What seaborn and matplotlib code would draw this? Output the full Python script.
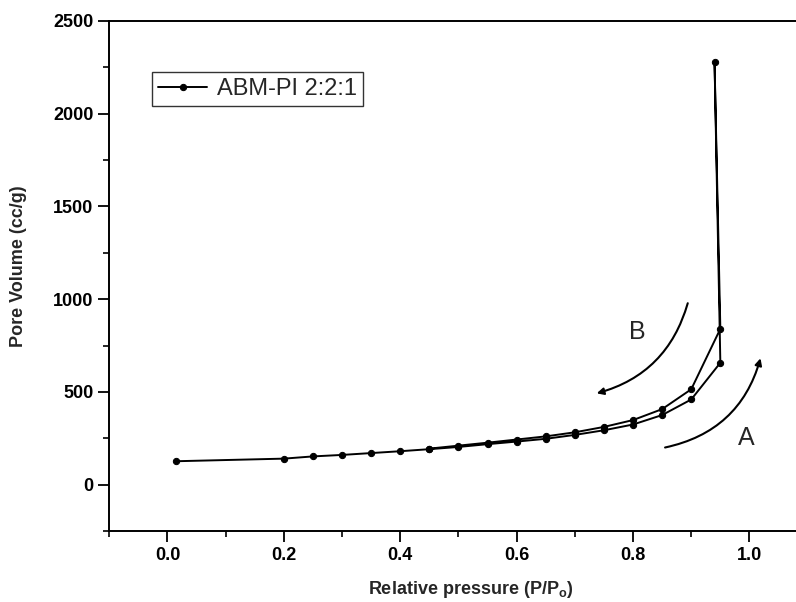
import pandas as pd
import seaborn as sns
import matplotlib.pyplot as plt

# ----------------------
# data (adsorption up, then desorption back)
# ----------------------
ads_p = [0.015, 0.20, 0.25, 0.30, 0.35, 0.40, 0.45, 0.50, 0.55, 0.60,
         0.65, 0.70, 0.75, 0.80, 0.85, 0.90, 0.95, 0.94]
ads_v = [126, 140, 152, 160, 170, 180, 191, 203, 218, 232,
         247, 268, 293, 324, 375, 459, 657, 2280]
des_p = [0.95, 0.90, 0.85, 0.80, 0.75, 0.70, 0.65, 0.60, 0.55, 0.50, 0.45]
des_v = [840, 514, 407, 348, 311, 282, 260, 243, 226, 210, 194]

series_name = "ABM-PI 2:2:1"
x_ticks = [0.0, 0.2, 0.4, 0.6, 0.8, 1.0]
y_ticks = [0, 500, 1000, 1500, 2000, 2500]

df = pd.DataFrame({
    "P": ads_p + des_p,
    "V": ads_v + des_v,
})

# ----------------------
# style
# ----------------------
sns.set_style("ticks")
plt.rcParams["font.family"] = ["Liberation Sans", "DejaVu Sans"]
plt.rcParams["mathtext.fontset"] = "custom"
plt.rcParams["mathtext.rm"] = "Liberation Sans:bold"
plt.rcParams["mathtext.bf"] = "Liberation Sans:bold"
plt.rcParams["mathtext.it"] = "Liberation Sans:bold"

fig = plt.figure(figsize=(7.96, 6.02), dpi=100)
ax = fig.add_axes([0.1373, 0.118, 0.8627, 0.8472])

sns.lineplot(data=df, x="P", y="V", sort=False, estimator=None, ax=ax,
             color="black", linewidth=1.4, marker="o", markersize=4.5,
             markeredgecolor="black", label=series_name)

ax.set_xlim(-0.1, 1.08)
ax.set_ylim(-250, 2500)
ax.set_xticks(x_ticks)
ax.set_xticklabels([f"{t:.1f}" for t in x_ticks])
ax.set_xticks([-0.1, 0.1, 0.3, 0.5, 0.7, 0.9], minor=True)
ax.set_yticks(y_ticks)
ax.set_yticklabels([str(t) for t in y_ticks])
ax.set_yticks([-250, 250, 750, 1250, 1750, 2250], minor=True)

for side in ["left", "bottom", "top"]:
    ax.spines[side].set_linewidth(1.4)
    ax.spines[side].set_color("black")
ax.spines["right"].set_visible(False)

ax.tick_params(which="major", direction="out", length=8, width=1.3,
               colors="black", labelsize=13, top=False, right=False)
ax.tick_params(which="minor", direction="out", length=4, width=1.2,
               colors="black", top=False, right=False)
for lab in ax.get_xticklabels() + ax.get_yticklabels():
    lab.set_fontweight("bold")

ax.set_xlabel("Relative pressure (P/P$_\\mathregular{o}$)", fontsize=13,
              fontweight="bold")
ax.set_ylabel("Pore Volume (cc/g)", fontsize=13, fontweight="bold")
ax.xaxis.set_label_coords(0.527, -0.094)
ax.yaxis.set_label_coords(-0.12, 0.52)

# arrows for the two branches
ax.annotate("", xy=(0.7375, 492), xytext=(0.894, 978),
            arrowprops=dict(arrowstyle="-|>", connectionstyle="arc3,rad=-0.28",
                            color="black", lw=1.5, mutation_scale=10,
                            shrinkA=0, shrinkB=0))
ax.annotate("", xy=(1.019, 681), xytext=(0.855, 200),
            arrowprops=dict(arrowstyle="-|>", connectionstyle="arc3,rad=0.3",
                            color="black", lw=1.5, mutation_scale=10,
                            shrinkA=0, shrinkB=0))
ax.text(0.807, 825, "B", fontsize=18, ha="center", va="center")
ax.text(0.995, 249, "A", fontsize=18, ha="center", va="center")

leg = ax.legend(loc="upper left", bbox_to_anchor=(0.045, 0.923), fontsize=17,
                frameon=True, fancybox=False, handlelength=2.1,
                borderpad=0.25, handletextpad=0.4)
leg.get_frame().set_edgecolor("black")
leg.get_frame().set_linewidth(1.0)

fig.savefig("out.png", dpi=100)
